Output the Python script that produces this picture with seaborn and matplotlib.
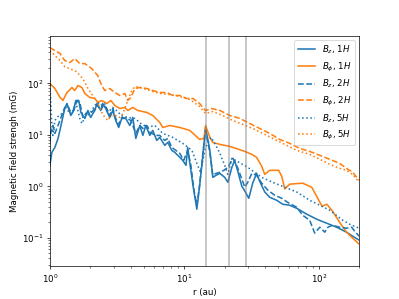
import numpy as np
import matplotlib
matplotlib.use("Agg")
import matplotlib.pyplot as plt
import seaborn as sns

# Radial profiles (r in au, B in mG)
r_bz_1h = [1.00, 1.035, 1.09, 1.15, 1.21, 1.29, 1.34, 1.43, 1.48, 1.56, 1.64, 1.70, 1.82, 1.92,
           2.01, 2.16, 2.24, 2.39, 2.47, 2.60, 2.79, 2.94, 3.09, 3.25, 3.43, 3.67, 3.93, 4.14,
           4.36, 4.67, 4.92, 5.17, 5.54, 5.83, 6.24, 6.57, 7.16, 7.54, 8.07, 8.50, 9.26, 9.74,
           10.3, 10.6, 11.0, 11.6, 12.4, 13.0, 13.7, 14.4, 15.5, 16.3, 17.2, 18.4, 20.0, 21.1,
           22.6, 23.7, 24.9, 26.8, 28.2, 30.2, 32.3, 34.5, 36.4, 39.7, 43.2, 48.7, 54.0, 60.9,
           68.6, 81.5, 96.7, 115, 136, 161, 179, 200]
b_bz_1h = [2.55, 4.55, 5.68, 8.48, 15.1, 32.2, 40.3, 23.6, 27.0, 46.1, 46.1, 27.0, 20.7, 29.5,
           21.6, 29.5, 40.3, 29.5, 40.3, 32.2, 21.6, 29.5, 18.9, 13.8, 20.7, 20.7, 15.1, 21.6,
           8.48, 15.1, 9.69, 15.1, 9.69, 12.1, 7.76, 8.87, 6.21, 7.10, 4.97, 4.55, 3.64, 3.18,
           2.55, 5.68, 2.79, 1.05, 0.359, 1.00, 3.64, 13.8, 4.97, 1.49, 1.63, 1.78, 1.49, 1.20,
           2.33, 3.18, 2.04, 1.00, 0.81, 0.586, 1.15, 1.78, 1.25, 0.776, 0.613, 0.536, 0.449, 0.429,
           0.375, 0.288, 0.230, 0.192, 0.161, 0.129, 0.108, 0.0903]

r_bphi_1h = [1.00, 1.09, 1.19, 1.25, 1.34, 1.46, 1.53, 1.62, 1.73, 1.82, 1.98, 2.16, 2.27, 2.43,
             2.65, 2.84, 3.04, 3.31, 3.61, 3.80, 4.14, 4.51, 5.27, 5.83, 6.57, 6.92, 7.80, 9.26,
             11.0, 13.0, 14.0, 14.4, 15.5, 16.3, 18.4, 21.8, 28.2, 31.8, 34.5, 37.7, 39.7, 43.2,
             50.4, 53.1, 55.9, 60.9, 76.0, 88.7, 106, 115, 127, 143, 161, 179, 200]
b_bphi_1h = [98.3, 78.6, 52.7, 46.1, 65.8, 82.3, 71.9, 89.9, 82.3, 63.0, 52.7, 50.4, 42.2, 46.1,
             40.3, 46.1, 36.9, 32.2, 33.8, 29.5, 33.8, 29.5, 27.0, 23.6, 17.3, 13.8, 15.1, 13.8,
             12.1, 8.11, 8.48, 15.1, 8.87, 7.10, 6.49, 5.94, 4.75, 4.16, 3.64, 2.44, 1.70, 2.04,
             2.04, 1.56, 0.887, 1.10, 1.15, 0.96, 0.410, 0.449, 0.328, 0.201, 0.129, 0.0987, 0.0755]

r_bz_2h = [1.00, 1.017, 1.053, 1.09, 1.15, 1.21, 1.29, 1.36, 1.43, 1.51, 1.58, 1.67, 1.76, 1.88,
           2.01, 2.16, 2.27, 2.39, 2.52, 2.65, 2.79, 2.94, 3.09, 3.25, 3.43, 3.74, 4.00, 4.36,
           4.67, 4.92, 5.27, 5.54, 6.13, 6.57, 7.16, 7.54, 8.07, 8.64, 9.26, 9.9, 10.6, 11.2,
           11.8, 12.4, 13.0, 13.7, 14.4, 15.5, 16.3, 17.2, 18.4, 19.7, 21.1, 23.0, 24.9, 28.2,
           29.7, 31.8, 34.5, 37.7, 41.7, 47.1, 53.1, 58.6, 68.6, 76.0, 85.7, 93.4, 102, 111,
           117, 127, 143, 161, 176, 185, 200]
b_bz_2h = [7.10, 11.1, 15.1, 10.6, 15.1, 21.6, 33.8, 36.9, 27.0, 29.5, 44.1, 42.2, 21.6, 27.0,
           25.8, 32.2, 36.9, 29.5, 38.6, 32.2, 23.6, 32.2, 20.7, 15.8, 21.6, 20.7, 18.9, 10.6,
           15.1, 13.2, 15.1, 11.1, 9.69, 9.69, 7.76, 8.48, 5.68, 4.97, 4.35, 3.18, 4.97, 2.55,
           0.848, 0.429, 1.05, 3.98, 12.1, 4.55, 1.63, 1.78, 1.87, 2.04, 2.33, 3.48, 2.33, 0.96,
           1.20, 1.78, 1.63, 1.15, 0.848, 0.670, 0.586, 0.490, 0.393, 0.275, 0.220, 0.124, 0.161, 0.129,
           0.161, 0.176, 0.161, 0.154, 0.161, 0.135, 0.108]

r_bphi_2h = [1.00, 1.09, 1.19, 1.29, 1.41, 1.53, 1.67, 1.82, 2.05, 2.27, 2.43, 2.56, 2.79, 3.04,
             3.31, 3.61, 3.80, 4.00, 4.29, 4.67, 5.27, 5.83, 6.57, 7.41, 8.22, 9.26, 10.4, 11.6,
             13.0, 14.4, 16.0, 18.4, 21.8, 25.9, 30.7, 36.4, 43.2, 51.3, 60.9, 72.2, 85.7, 102,
             121, 143, 161, 179, 200]
b_bphi_2h = [489, 427, 374, 274, 251, 299, 239, 239, 191, 140, 89.9, 71.9, 78.6, 65.8,
             57.6, 63.0, 46.1, 52.7, 78.6, 82.3, 78.6, 71.9, 65.8, 65.8, 57.6, 57.6, 50.4, 50.4,
             40.3, 29.5, 32.2, 29.5, 23.6, 20.7, 16.5, 13.2, 10.6, 8.11, 6.79, 5.43, 4.75, 3.98,
             3.33, 2.79, 2.23, 1.87, 1.31]

r_bz_5h = [1.00, 1.017, 1.035, 1.053, 1.09, 1.15, 1.19, 1.25, 1.31, 1.41, 1.48, 1.56, 1.67, 1.73,
           1.82, 1.98, 2.16, 2.27, 2.39, 2.56, 2.70, 2.94, 3.25, 3.37, 3.80, 4.29, 4.75, 5.36,
           6.03, 6.92, 8.22, 9.74, 11.4, 12.4, 13.2, 14.4, 15.8, 17.2, 18.4, 20.0, 21.1, 22.6,
           29.7, 37.7, 47.1, 68.6, 85.7, 102, 121, 151, 170, 200]
b_bz_5h = [112, 36.9, 15.1, 9.69, 18.9, 22.6, 23.6, 27.0, 33.8, 25.8, 27.0, 42.2, 20.7, 16.5,
           21.6, 25.8, 36.9, 42.2, 36.9, 40.3, 27.0, 33.8, 27.0, 23.6, 21.6, 20.7, 16.5, 13.8,
           15.1, 10.6, 8.87, 6.79, 4.97, 2.79, 1.87, 5.68, 8.87, 6.21, 4.35, 2.55, 1.70, 3.48,
           2.33, 1.49, 1.15, 0.776, 0.536, 0.429, 0.343, 0.220, 0.184, 0.154]

r_bphi_5h = [1.00, 1.09, 1.19, 1.29, 1.41, 1.58, 1.76, 1.92, 2.08, 2.27, 2.43, 2.56, 2.70, 2.84,
             3.09, 3.31, 3.49, 3.80, 4.07, 4.29, 4.67, 5.27, 5.83, 6.57, 7.80, 9.26, 11.0, 13.0,
             14.4, 16.3, 19.3, 22.9, 27.3, 32.3, 38.4, 45.5, 54.0, 68.6, 85.7, 102, 121, 143,
             161, 179, 200]
b_bphi_5h = [427, 342, 274, 209, 191, 167, 122, 78.6, 57.6, 42.2, 27.0, 21.6, 18.9, 23.6,
             23.6, 21.6, 25.8, 46.1, 71.9, 86.0, 82.3, 75.2, 68.7, 63.0, 60.3, 55.1, 48.2, 35.3,
             25.8, 28.2, 23.6, 18.9, 15.8, 13.2, 10.6, 8.48, 6.79, 4.97, 4.16, 3.33, 2.67, 2.23,
             2.04, 1.70, 1.20]

gap_radii = [14.6, 21.7, 29.0]

series = [
    (r_bz_1h, b_bz_1h, "tab:blue", "-", r"$B_z$, $1H$"),
    (r_bphi_1h, b_bphi_1h, "tab:orange", "-", r"$B_\phi$, $1H$"),
    (r_bz_2h, b_bz_2h, "tab:blue", "--", r"$B_z$, $2H$"),
    (r_bphi_2h, b_bphi_2h, "tab:orange", "--", r"$B_\phi$, $2H$"),
    (r_bz_5h, b_bz_5h, "tab:blue", ":", r"$B_z$, $5H$"),
    (r_bphi_5h, b_bphi_5h, "tab:orange", ":", r"$B_\phi$, $5H$"),
]

fig, ax = plt.subplots(figsize=(6.4, 4.8), dpi=62.35)

for r, b, color, ls, label in series:
    sns.lineplot(x=r, y=b, ax=ax, color=color, linestyle=ls, label=label, lw=1.8)

for rg in gap_radii:
    ax.axvline(rg, color="gray", alpha=0.5, lw=2)

ax.set_xscale("log")
ax.set_yscale("log")
ax.set_xlim(1, 200)
ax.set_ylim(0.0284, 833)
ax.set_xlabel("r (au)")
ax.set_ylabel("Magnetic field strengh (mG)")
ax.legend(loc="upper right")

fig.savefig("out.png", dpi=62.35)
